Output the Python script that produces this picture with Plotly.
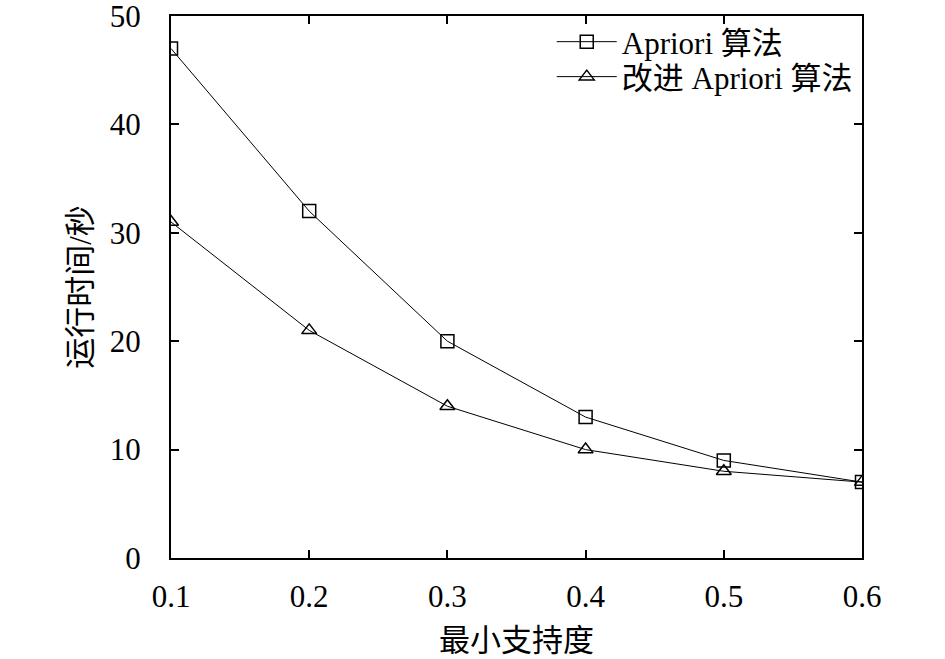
import plotly.graph_objects as go

support = [0.1, 0.2, 0.3, 0.4, 0.5, 0.6]
apriori_time = [47, 32, 20, 13, 9, 7]
improved_time = [31, 21, 14, 10, 8, 7]

serif = "Liberation Serif, Noto Sans CJK SC, serif"

fig = go.Figure()
fig.add_trace(go.Scatter(
    x=support, y=apriori_time, name="Apriori 算法",
    mode="lines+markers", legend="legend",
    line=dict(color="black", width=1),
    marker=dict(symbol="square-open", size=13, color="black", line=dict(width=1.5))
))
fig.add_trace(go.Scatter(
    x=support, y=improved_time, name="改进 Apriori 算法",
    mode="lines+markers", legend="legend2",
    line=dict(color="black", width=1),
    marker=dict(symbol="triangle-up-open", size=13, color="black", line=dict(width=1.5))
))

axis_style = dict(
    showline=True, linecolor="black", linewidth=2, mirror="ticks",
    ticks="inside", ticklen=8, tickwidth=1.5, tickcolor="black",
    showgrid=False, zeroline=False, automargin=False,
    ticklabeloverflow="allow",
    tickfont=dict(family=serif, size=31, color="black"),
)

legend_style = dict(
    xanchor="left", yanchor="middle", x=0.551,
    bgcolor="rgba(0,0,0,0)", font=dict(family=serif, size=31, color="black"),
    itemwidth=60,
)

fig.update_layout(
    width=945, height=659,
    margin=dict(l=171, r=83, t=16, b=101),
    paper_bgcolor="white", plot_bgcolor="white",
    font=dict(family=serif, color="black"),
    showlegend=True,
    legend=dict(y=0.952, **legend_style),
    legend2=dict(y=0.8875, **legend_style),
)
fig.update_xaxes(
    range=[0.1, 0.6], tickvals=support, ticktext=["0.1", "0.2", "0.3", "0.4", "0.5", "0.6"],
    ticklabelstandoff=10,
    title=dict(text="最小支持度", font=dict(family=serif, size=31, color="black"), standoff=16),
    **axis_style
)
fig.update_yaxes(
    range=[0, 50], dtick=10, ticklabelstandoff=22,
    title=dict(text="运行时间/秒", font=dict(family=serif, size=31, color="black"), standoff=9),
    **axis_style
)

# drop the default 8px page margin so the figure sits at the window's corner
fig.write_html("out.html", config={"displayModeBar": False},
               post_script="document.body.style.margin='0';")
